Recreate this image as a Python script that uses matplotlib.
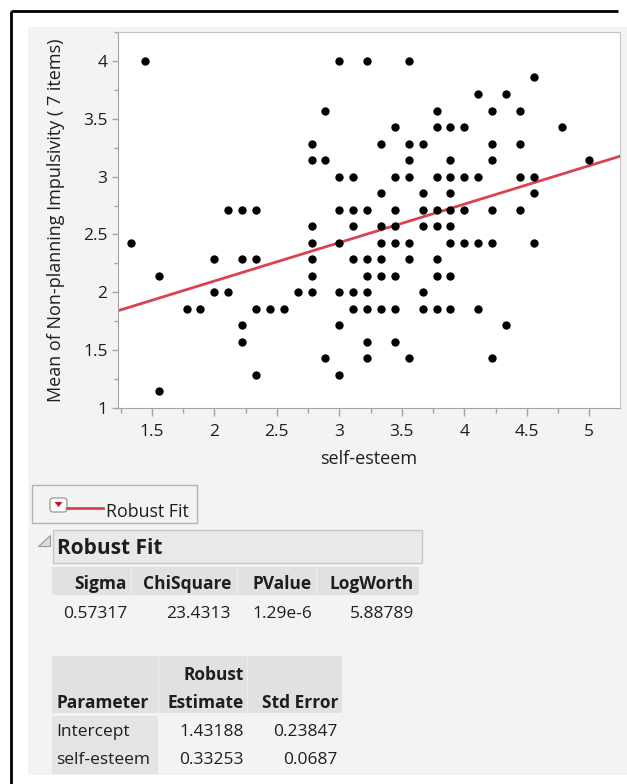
import matplotlib
matplotlib.use("Agg")
import matplotlib.pyplot as plt
from matplotlib.patches import Rectangle, Polygon, FancyBboxPatch
from matplotlib.ticker import MultipleLocator

plt.rcParams["font.family"] = ["Open Sans", "DejaVu Sans"]

# scatter data: self-esteem (x) vs mean non-planning impulsivity (y)
self_esteem = [
    1.333,
    1.444,
    1.556, 1.556,
    1.778,
    1.889,
    2.0, 2.0,
    2.111, 2.111,
    2.222, 2.222, 2.222, 2.222,
    2.333, 2.333, 2.333, 2.333,
    2.444,
    2.556,
    2.667,
    2.778, 2.778, 2.778, 2.778, 2.778, 2.778, 2.778,
    2.889, 2.889, 2.889,
    3.0, 3.0, 3.0, 3.0, 3.0, 3.0, 3.0,
    3.111, 3.111, 3.111, 3.111, 3.111, 3.111,
    3.222, 3.222, 3.222, 3.222, 3.222, 3.222, 3.222, 3.222,
    3.333, 3.333, 3.333, 3.333, 3.333, 3.333, 3.333,
    3.444, 3.444, 3.444, 3.444, 3.444, 3.444, 3.444, 3.444,
    3.556, 3.556, 3.556, 3.556, 3.556, 3.556, 3.556,
    3.667, 3.667, 3.667, 3.667, 3.667, 3.667,
    3.778, 3.778, 3.778, 3.778, 3.778, 3.778, 3.778, 3.778,
    3.889, 3.889, 3.889, 3.889, 3.889, 3.889, 3.889, 3.889, 3.889,
    4.0, 4.0, 4.0, 4.0,
    4.111, 4.111, 4.111, 4.111,
    4.222, 4.222, 4.222, 4.222, 4.222, 4.222,
    4.333, 4.333,
    4.444, 4.444, 4.444, 4.444,
    4.556, 4.556, 4.556, 4.556,
    4.778,
    5.0,
]
impulsivity = [
    2.429,
    4.0,
    2.143, 1.143,
    1.857,
    1.857,
    2.286, 2.0,
    2.714, 2.0,
    2.714, 2.286, 1.714, 1.571,
    2.714, 2.286, 1.857, 1.286,
    1.857,
    1.857,
    2.0,
    3.286, 3.143, 2.571, 2.429, 2.286, 2.143, 2.0,
    3.571, 3.143, 1.429,
    4.0, 3.0, 2.714, 2.429, 2.0, 1.714, 1.286,
    3.0, 2.714, 2.571, 2.286, 2.0, 1.857,
    4.0, 2.714, 2.286, 2.143, 2.0, 1.857, 1.571, 1.429,
    3.286, 2.857, 2.571, 2.429, 2.286, 2.143, 1.857,
    3.429, 3.0, 2.714, 2.571, 2.429, 2.143, 1.857, 1.571,
    4.0, 3.286, 3.143, 3.0, 2.429, 2.286, 1.429,
    3.286, 2.857, 2.714, 2.571, 2.0, 1.857,
    3.571, 3.429, 3.0, 2.714, 2.571, 2.286, 2.143, 1.857,
    3.429, 3.143, 3.0, 2.857, 2.714, 2.571, 2.429, 2.143, 1.857,
    3.429, 3.0, 2.714, 2.429,
    3.714, 3.0, 2.429, 1.857,
    3.571, 3.286, 3.143, 2.714, 2.429, 1.429,
    3.714, 1.714,
    3.571, 3.286, 3.0, 2.714,
    3.857, 3.0, 2.857, 2.429,
    3.429,
    3.143,
]

# robust fit report
intercept = 1.43188
slope = 0.33253
fit_cols = ["Sigma", "ChiSquare", "PValue", "LogWorth"]
fit_vals = ["0.57317", "23.4313", "1.29e-6", "5.88789"]
param_names = ["Intercept", "self-esteem"]
param_est = ["1.43188", "0.33253"]
param_se = ["0.23847", "0.0687"]

W, H = 627, 784
fig = plt.figure(figsize=(W / 100, H / 100), dpi=100)
fig.patch.set_facecolor("white")

# background layer in pixel coordinates
bg = fig.add_axes([0, 0, 1, 1], zorder=0)
bg.set_xlim(0, W)
bg.set_ylim(H, 0)
bg.axis("off")

panel = "#f3f3f3"
band = "#e1e1e1"
txt = "#1e1e1e"
red = "#d9434f"
fs = 12.5

bg.add_patch(Rectangle((28, 27), W - 28, 775 - 27, facecolor=panel, edgecolor="none"))
bg.plot([11, 11], [11, H], color="black", lw=2, solid_capstyle="butt")
bg.plot([11, 618], [11, 11], color="black", lw=2, solid_capstyle="butt")

# legend box
bg.add_patch(Rectangle((32, 485), 165, 38, facecolor=panel, edgecolor="#b4b4b4", lw=1))
bg.add_patch(FancyBboxPatch((50, 498), 17, 14, boxstyle="round,pad=0,rounding_size=3",
                            facecolor="white", edgecolor="#8c8c8c", lw=0.8))
bg.add_patch(Polygon([(54.5, 502), (62.5, 502), (58.5, 507)], closed=True,
                     facecolor="#c8102e", edgecolor="none"))
bg.plot([67, 103], [508, 508], color=red, lw=2)
bg.text(106, 512, "Robust Fit", fontsize=12.8, color=txt, va="center", ha="left")

# outline header
bg.add_patch(Polygon([(38, 546), (50, 546), (50, 535)], closed=True,
                     facecolor="#dcdcdc", edgecolor="#9a9a9a", lw=0.8))
bg.add_patch(Rectangle((53, 530), 369, 33, facecolor="#e9e9e9", edgecolor="#c8c8c8", lw=1))
bg.text(57, 549, "Robust Fit", fontsize=15, fontweight="bold", color=txt, va="center", ha="left")

# fit statistics table
bg.add_patch(Rectangle((52, 567), 367, 28, facecolor=band, edgecolor="none"))
for sx in [131, 237, 316]:
    bg.plot([sx, sx], [567, 595], color="#ececec", lw=1)
col_right = [127, 231, 312, 414]
for cx, name, val in zip(col_right, fit_cols, fit_vals):
    bg.text(cx, 584, name, fontsize=fs, fontweight="bold", color=txt, ha="right", va="center")
    bg.text(cx, 614, val, fontsize=fs, color=txt, ha="right", va="center")

# parameter table
bg.add_patch(Rectangle((52, 656), 290, 57, facecolor=band, edgecolor="none"))
for sx in [158, 247]:
    bg.plot([sx, sx], [656, 713], color="#ececec", lw=1)
bg.add_patch(Rectangle((52, 716), 106, 58, facecolor="#e4e4e4", edgecolor="none"))
bg.text(244, 675, "Robust", fontsize=fs, fontweight="bold", color=txt, ha="right", va="center")
bg.text(57, 703, "Parameter", fontsize=fs, fontweight="bold", color=txt, ha="left", va="center")
bg.text(244, 703, "Estimate", fontsize=fs, fontweight="bold", color=txt, ha="right", va="center")
bg.text(338, 703, "Std Error", fontsize=fs, fontweight="bold", color=txt, ha="right", va="center")
for ry, name, est, se in zip([732, 760], param_names, param_est, param_se):
    bg.text(56, ry, name, fontsize=fs, color=txt, ha="left", va="center")
    bg.text(244, ry, est, fontsize=fs, color=txt, ha="right", va="center")
    bg.text(338, ry, se, fontsize=fs, color=txt, ha="right", va="center")

# scatter plot
ax = fig.add_axes([118 / W, 1 - 408 / H, (620 - 118) / W, (408 - 32) / H], zorder=1)
ax.set_facecolor("white")
ax.scatter(self_esteem, impulsivity, s=36, color="black", linewidths=0, zorder=3)
ax.axline((0, intercept), slope=slope, color=red, lw=2, zorder=2)

ax.set_xlim(1.23, 5.246)
ax.set_ylim(1.0, 4.25)
ax.xaxis.set_minor_locator(MultipleLocator(0.25))
ax.yaxis.set_minor_locator(MultipleLocator(0.25))
ax.set_xticks([1.5, 2, 2.5, 3, 3.5, 4, 4.5, 5])
ax.set_xticklabels(["1.5", "2", "2.5", "3", "3.5", "4", "4.5", "5"])
ax.set_yticks([1, 1.5, 2, 2.5, 3, 3.5, 4])
ax.set_yticklabels(["1", "1.5", "2", "2.5", "3", "3.5", "4"])

for side in ["left", "bottom"]:
    ax.spines[side].set_color("#a4a4a4")
for side in ["top", "right"]:
    ax.spines[side].set_color("#c4c4c4")
ax.tick_params(axis="x", which="major", length=5.5, width=1, color="#a4a4a4",
               labelsize=fs, labelcolor=txt, pad=6)
ax.tick_params(axis="x", which="minor", length=3.5, width=1, color="#a4a4a4")
ax.tick_params(axis="y", which="major", length=4.5, width=1, color="#a4a4a4",
               labelsize=fs, labelcolor=txt, pad=3)
ax.tick_params(axis="y", which="minor", length=3, width=1, color="#a4a4a4")

ax.set_xlabel("self-esteem", fontsize=13, color=txt, labelpad=7)
ax.set_ylabel("Mean of Non-planning Impulsivity ( 7 items)", fontsize=13, color=txt, labelpad=13)

fig.savefig("out.png", dpi=100)
